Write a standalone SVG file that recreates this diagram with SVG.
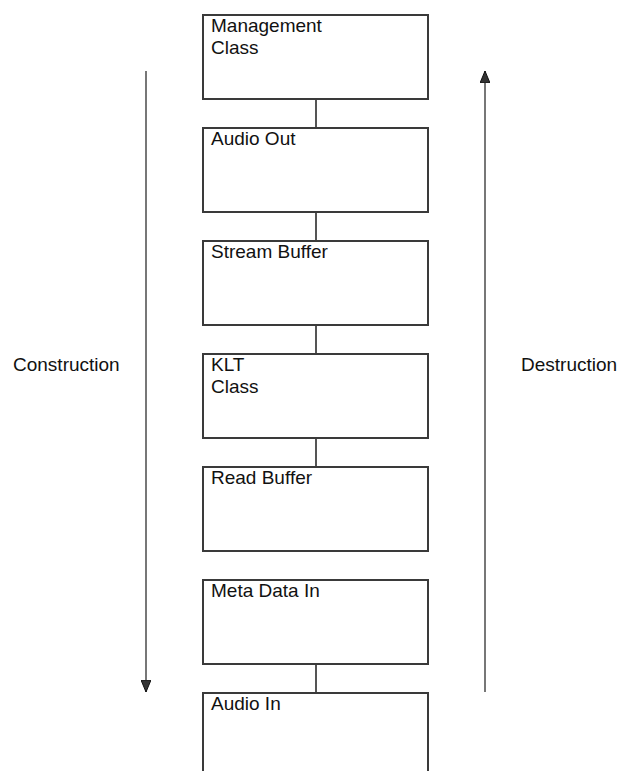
<svg xmlns="http://www.w3.org/2000/svg" width="619" height="771" viewBox="0 0 619 771">
<defs>
<style>
.box{fill:#fff;stroke:#3a3a3a;stroke-width:2}
.t{font-family:"Liberation Sans",Arial,sans-serif;font-size:19px;fill:#111}
.c{stroke:#555;stroke-width:2;fill:none}
.a{stroke:#777;stroke-width:2;fill:none}
</style>
<marker id="ah" viewBox="0 0 12 10" refX="12" refY="5" markerWidth="12" markerHeight="10" markerUnits="userSpaceOnUse" orient="auto">
<path d="M0,0 L12,5 L0,10 Z" fill="#333" stroke="#111" stroke-width="1"/>
</marker>
</defs>
<rect width="619" height="771" fill="#fff"/>
<g id="connectors">
<line class="c" x1="316" y1="99" x2="316" y2="127"/>
<line class="c" x1="316" y1="212" x2="316" y2="240"/>
<line class="c" x1="316" y1="325" x2="316" y2="353"/>
<line class="c" x1="316" y1="438" x2="316" y2="466"/>
<line class="c" x1="316" y1="664" x2="316" y2="692"/>
<line class="a" x1="146" y1="71" x2="146" y2="692" marker-end="url(#ah)"/>
<line class="a" x1="485" y1="692" x2="485" y2="71" marker-end="url(#ah)"/>
</g>
<g id="n1"><rect class="box" x="203" y="15" width="225" height="84"/><text class="t" x="211" y="32">Management</text><text class="t" x="211" y="54">Class</text></g>
<g id="n2"><rect class="box" x="203" y="128" width="225" height="84"/><text class="t" x="211" y="145">Audio Out</text></g>
<g id="n3"><rect class="box" x="203" y="241" width="225" height="84"/><text class="t" x="211" y="258">Stream Buffer</text></g>
<g id="n4"><rect class="box" x="203" y="354" width="225" height="84"/><text class="t" x="211" y="371">KLT</text><text class="t" x="211" y="393">Class</text></g>
<g id="n5"><rect class="box" x="203" y="467" width="225" height="84"/><text class="t" x="211" y="484">Read Buffer</text></g>
<g id="n6"><rect class="box" x="203" y="580" width="225" height="84"/><text class="t" x="211" y="597">Meta Data In</text></g>
<g id="n7"><rect class="box" x="203" y="693" width="225" height="100"/><text class="t" x="211" y="710">Audio In</text></g>
<g id="labels">
<text class="t" x="13" y="371">Construction</text>
<text class="t" x="521" y="371">Destruction</text>
</g>
</svg>
